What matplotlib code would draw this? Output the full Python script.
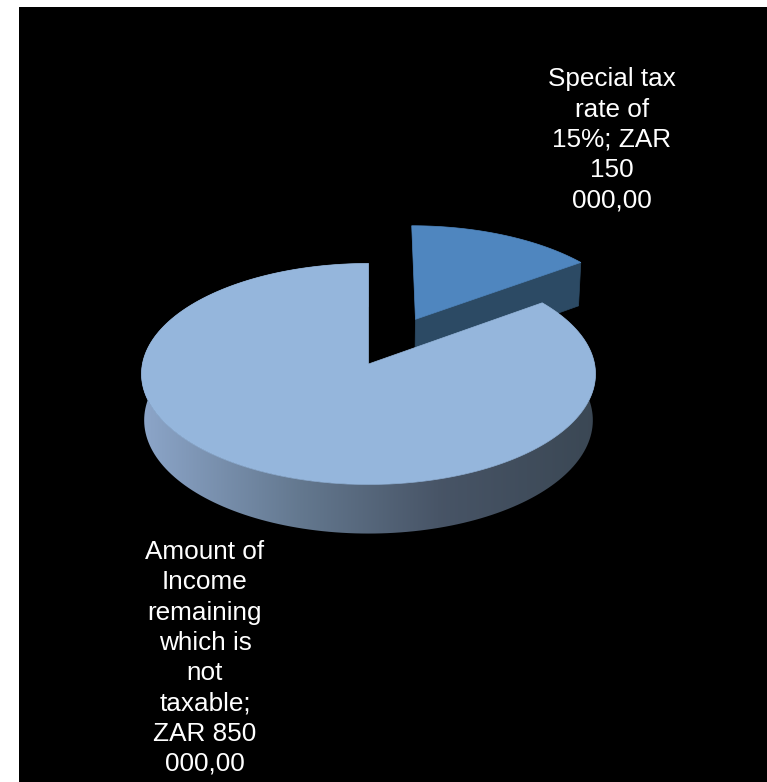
#! /usr/bin/env python3

import numpy as np
import matplotlib
matplotlib.use('Agg')
import matplotlib.pyplot as plt
from matplotlib.patches import Polygon
from matplotlib.colors import LinearSegmentedColormap

# ========================================= #
# DATA                                      #
# ========================================= #

labels  = ['Special tax\nrate of\n15%; ZAR\n150\n000,00',
           'Amount of\nIncome\nremaining\nwhich is\nnot\ntaxable;\nZAR 850\n000,00']
values  = [150000.0, 850000.0]
explode = [0.475, 0.0]
top_col = ['#4f86bf', '#95b6dc']
cut_col = ['#2c4a64', '#3e5366']

# ========================================= #
# 3D PROJECTION SET UP (pixel coords)       #
# ========================================= #

W, H  = 767, 782
cx,cy = 368.5, 364.    # where the pie centre lands
foc   = 2193.          # focal length in px
dist  = 9.7            # camera distance (in radii)
phi   = np.radians(29) # elevation
hgt   = 0.236          # pie thickness (in radii)

def proj(X,Y,Z):
  dep = dist + Y*np.cos(phi) - Z*np.sin(phi)
  u   = foc*X/dep
  v   = foc*(Y*np.sin(phi) + Z*np.cos(phi))/dep
  return cx+u, cy-v

def arc(t1,t2,ox,oy,z,n=200):
  t = np.radians(np.linspace(t1,t2,n))
  return np.column_stack(proj(ox+np.cos(t),oy+np.sin(t),z+0*t))

fig = plt.figure(figsize=(W/100.,H/100.),dpi=100,facecolor='white')
ax  = fig.add_axes([19./W,0,(W-19.)/W,(H-7.)/H])
ax.set_facecolor('black')
ax.set_xlim(19,W)
ax.set_ylim(H,7)
ax.axis('off')
ax.add_patch(plt.Rectangle((19,7),W-19,H-7,color='black',zorder=0))

# slice angles, clockwise from 12 o'clock
frac = np.array(values)/np.sum(values)
cum  = np.concatenate([[0],np.cumsum(frac)])
th1  = 90 - 360*cum[:-1]
th2  = 90 - 360*cum[1:]

# side gradient for the big slice (by screen x)
side_cm = LinearSegmentedColormap.from_list('side',
            [(0.00,(0.55,0.65,0.79)),
             (0.35,(0.39,0.47,0.56)),
             (0.66,(0.28,0.33,0.40)),
             (1.00,(0.23,0.28,0.33))])

z = 1
for i in range(len(values)):
  mid = np.radians(0.5*(th1[i]+th2[i]))
  ox  = explode[i]*np.cos(mid)
  oy  = explode[i]*np.sin(mid)
  ax0 = proj(ox,oy,0)
  ax1 = proj(ox,oy,-hgt)

  # outer curved side (only the front half shows)
  if frac[i] > 0.5:
    top = arc(th1[i],th2[i],ox,oy,0)
    bot = arc(th1[i],th2[i],ox,oy,-hgt)[::-1]
    band = Polygon(np.vstack([top,bot]),closed=True,fc='none',ec='none')
    ax.add_patch(band)
    xs = np.linspace(141,595,256)
    im = ax.imshow(xs[None,:],cmap=side_cm,extent=(141,596,560,250),
                   aspect='auto',zorder=z,interpolation='bilinear')
    im.set_clip_path(band)
    z += 1
  else:
    # radial cut face at the clockwise end
    p0 = proj(ox+np.cos(np.radians(th2[i])),oy+np.sin(np.radians(th2[i])),0)
    p1 = proj(ox+np.cos(np.radians(th2[i])),oy+np.sin(np.radians(th2[i])),-hgt)
    ax.add_patch(Polygon([ax0,p0,p1,ax1],closed=True,fc=cut_col[i],
                         ec=cut_col[i],lw=0.5,zorder=z))
    z += 1

  # top face
  pts = np.vstack([[ax0],arc(th1[i],th2[i],ox,oy,0)])
  ax.add_patch(Polygon(pts,closed=True,fc=top_col[i],ec=top_col[i],
                       lw=0.5,zorder=z))
  z += 1

# labels
ax.text(612,140,labels[0],color='white',fontsize=18.8,ha='center',va='center',
        family=['Liberation Sans','DejaVu Sans'],linespacing=1.33,zorder=z)
ax.text(205,658,labels[1],color='white',fontsize=18.8,ha='center',va='center',
        family=['Liberation Sans','DejaVu Sans'],linespacing=1.33,zorder=z)

fig.savefig('out.png',dpi=100,facecolor='white')
